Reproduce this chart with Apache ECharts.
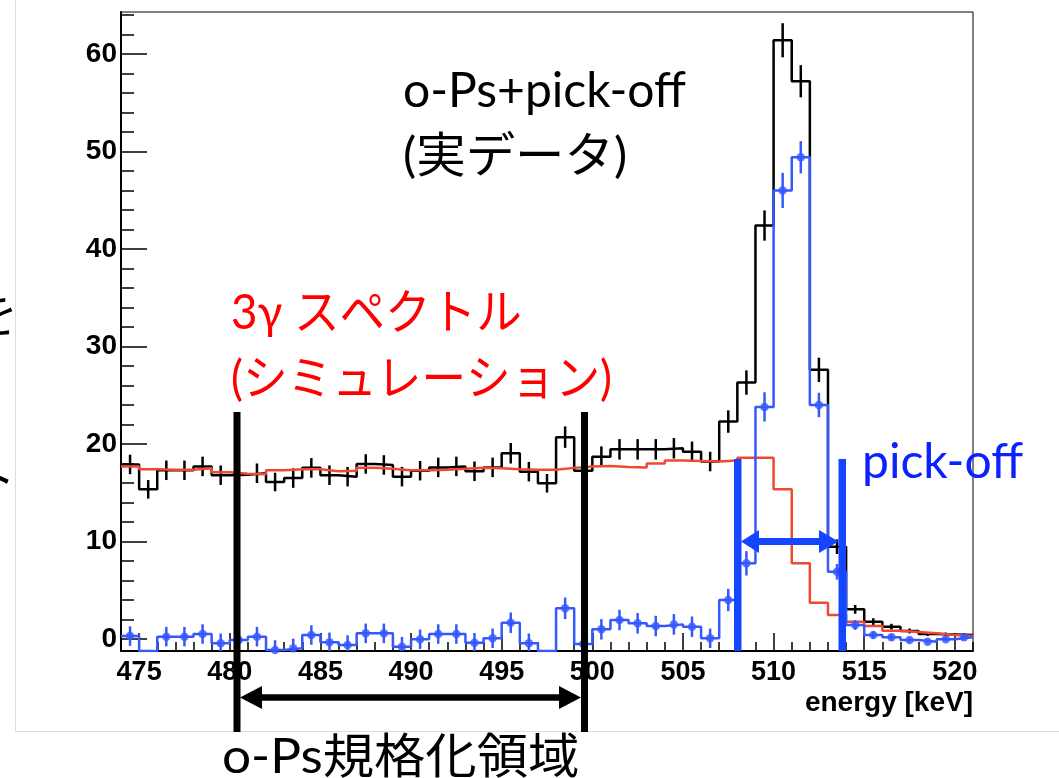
<!DOCTYPE html>
<html><head><meta charset="utf-8">
<script src="https://cdn.jsdelivr.net/npm/echarts@6/dist/echarts.min.js"></script>
<style>html,body{margin:0;padding:0;background:#fff}#c{width:1059px;height:778px}</style>
</head><body><div id="c"></div>
<script>
// ---- data (1 keV bins, lower edges) ----
const binLowEdges = [474,475,476,477,478,479,480,481,482,483,
  484,485,486,487,488,489,490,491,492,493,
  494,495,496,497,498,499,500,501,502,503,
  504,505,506,507,508,509,510,511,512,513,
  514,515,516,517,518,519,520];
const binWidth = 1;
// o-Ps + pick-off (measured data)
const dataCounts = [17.9,15.35,17.3,17.3,17.7,16.8,16.85,17.0,16.1,16.5,
  17.55,16.8,16.65,17.95,17.85,16.65,17.26,17.6,17.7,17.2,
  17.6,19.05,17.16,15.97,20.7,17.26,18.7,19.45,19.45,19.45,
  19.56,19.2,18.2,22.3,26.3,42.4,61.4,57.2,27.6,9.47,
  3.04,1.78,1.26,0.82,0.51,0.47,0.41];
const dataErrors = [1.0,0.95,1.0,1.0,1.0,1.0,1.0,1.0,0.95,1.0,
  1.0,1.0,1.0,1.0,1.0,1.0,1.0,1.0,1.0,1.0,
  1.0,1.05,1.0,0.95,1.1,1.0,1.05,1.05,1.05,1.05,
  1.05,1.05,1.0,1.15,1.25,1.55,1.75,1.65,1.25,0.75,
  0.45,0.35,0.3,0.25,0.2,0.2,0.2];
// pick-off (data minus 3gamma)
const pickoffCounts = [0.3,-2.05,0.24,0.24,0.51,-0.44,-0.1,0.24,-1.13,-0.96,
  0.41,-0.34,-0.62,0.58,0.58,-0.79,-0.03,0.51,0.51,-0.38,
  0.07,1.67,-0.44,-1.38,3.15,-0.51,0.99,1.95,1.61,1.33,
  1.5,1.26,0.07,4.0,7.76,23.8,46.0,49.4,24.0,6.9,
  1.44,0.41,0.17,-0.1,-0.27,-0.03,0.17];
const pickoffErrors = [1.0,1.0,1.0,1.0,1.0,1.0,1.0,1.0,1.0,1.0,
  1.0,1.0,1.0,1.0,1.0,1.0,1.0,1.0,1.0,1.0,
  1.0,1.05,1.0,1.0,1.1,1.0,1.05,1.05,1.05,1.05,
  1.05,1.05,1.0,1.15,1.25,1.5,1.8,1.65,1.25,0.8,
  0.5,0.35,0.3,0.25,0.2,0.2,0.2];
// 3gamma spectrum (simulation)
const sim3gCounts = [17.7,17.4,17.35,17.35,17.5,17.1,16.95,16.9,17.3,17.4,
  17.4,17.2,17.25,17.55,17.45,17.3,17.3,17.35,17.45,17.55,
  17.5,17.4,17.35,17.35,17.55,17.7,17.75,17.65,17.6,18.0,
  18.3,18.25,18.2,18.3,18.6,18.6,15.35,7.76,3.73,2.46,
  1.78,1.33,0.85,0.72,0.58,0.41,0.31];
const xMajorTicks = [475,480,485,490,495,500,505,510,515,520];
const xMinorTicks = [474,475,476,477,478,479,480,481,482,483,484,485,486,487,488,489,490,491,492,493,494,495,496,497,498,499,500,501,502,503,504,505,506,507,508,509,510,511,512,513,514,515,516,517,518,519,520,521];
const yMajorTicks = [0,10,20,30,40,50,60];
const yMinorTicks = [0,2,4,6,8,10,12,14,16,18,20,22,24,26,28,30,32,34,36,38,40,42,44,46,48,50,52,54,56,58,60,62,64];
const X_MIN = 474, X_MAX = 521, Y_MIN = -1.23, Y_MAX = 64.3;

// ---- helpers ----
const clampY = v => Math.max(v, Y_MIN);
function stepPoints(vals){
  const pts = binLowEdges.map((e,i)=>[e, clampY(vals[i])]);
  pts.push([binLowEdges[binLowEdges.length-1]+binWidth, clampY(vals[vals.length-1])]);
  return pts;
}
function errPoints(vals, errs){
  return binLowEdges.map((e,i)=>[e+binWidth/2, vals[i], errs[i]]);
}
function errSeries(vals, errs, color, z){
  return {type:'custom', z:z, clip:true, silent:true,
    data: errPoints(vals, errs),
    renderItem:(params, api)=>{
      const x = api.value(0), v = api.value(1), e = api.value(2);
      if (v <= Y_MIN) return null;
      const p1 = api.coord([x, v-e]), p2 = api.coord([x, v+e]);
      return {type:'line', shape:{x1:p1[0],y1:p1[1],x2:p2[0],y2:p2[1]},
        style:{stroke:color, lineWidth:2.5}};
    }};
}

const BLACK='#000000', BLUE='#3558ff', RED='#ef4a30';
const ANN_BLUE='#1446ff';
const tickFont = {fontFamily:'"Liberation Sans", Arial, sans-serif', fontWeight:'bold', color:'#000'};
const slideFont = 'Lato, "Noto Sans CJK JP", sans-serif';

const chart = echarts.init(document.getElementById('c'), null, {renderer:'canvas'});
const option = {
  backgroundColor:'#ffffff',
  animation:false,
  grid:{left:121, top:12, width:852, height:639, show:true, borderColor:'#000', borderWidth:1, backgroundColor:'transparent'},
  xAxis:[
    {type:'value', min:X_MIN, max:X_MAX, position:'bottom',
     axisLine:{show:true, onZero:false, lineStyle:{color:'#000', width:2}},
     axisTick:{show:true, inside:true, length:18, customValues:xMajorTicks, lineStyle:{color:'#000', width:1.5}},
     axisLabel:Object.assign({customValues:xMajorTicks, margin:8, fontSize:27}, tickFont),
     splitLine:{show:false}},
    {type:'value', min:X_MIN, max:X_MAX, position:'bottom',
     axisLine:{show:false, onZero:false},
     axisTick:{show:true, inside:true, length:9, customValues:xMinorTicks, lineStyle:{color:'#000', width:1.5}},
     axisLabel:{show:false}, splitLine:{show:false}}
  ],
  yAxis:[
    {type:'value', min:Y_MIN, max:Y_MAX, position:'left',
     axisLine:{show:true, onZero:false, lineStyle:{color:'#000', width:2}},
     axisTick:{show:true, inside:true, length:26, customValues:yMajorTicks, lineStyle:{color:'#000', width:1.5}},
     axisLabel:Object.assign({customValues:yMajorTicks, margin:4, fontSize:28}, tickFont),
     splitLine:{show:false}},
    {type:'value', min:Y_MIN, max:Y_MAX, position:'left',
     axisLine:{show:false, onZero:false},
     axisTick:{show:true, inside:true, length:13, customValues:yMinorTicks, lineStyle:{color:'#000', width:1.5}},
     axisLabel:{show:false}, splitLine:{show:false}}
  ],
  series:[
    {type:'line', name:'data', step:'end', symbol:'none', z:2, data:stepPoints(dataCounts),
     lineStyle:{color:BLACK, width:2.5}},
    errSeries(dataCounts, dataErrors, BLACK, 2),
    {type:'line', name:'3gamma', step:'end', symbol:'none', z:3, data:stepPoints(sim3gCounts),
     lineStyle:{color:RED, width:2.5}},
    {type:'line', name:'pickoff', step:'end', symbol:'none', z:4, data:stepPoints(pickoffCounts),
     lineStyle:{color:BLUE, width:2.5}},
    errSeries(pickoffCounts, pickoffErrors, BLUE, 4),
    {type:'scatter', z:5, symbol:'circle', symbolSize:8.5, itemStyle:{color:BLUE}, silent:true,
     data: binLowEdges.map((e,i)=>[e+binWidth/2, pickoffCounts[i]]).filter(p=>p[1] > Y_MIN)}
  ],
  graphic:{elements:[
    // slide frame edges
    {type:'line', z:1, shape:{x1:15.5,y1:0,x2:15.5,y2:731}, style:{stroke:'#dddddd', lineWidth:1}},
    {type:'line', z:1, shape:{x1:15,y1:731.5,x2:1059,y2:731.5}, style:{stroke:'#dddddd', lineWidth:1}},
    // cut-off y label
    {type:'text', z:100, x:-6, y:314, style:{text:'を', font:'48px "Noto Sans CJK JP"', fill:'#000', align:'center', verticalAlign:'middle'}},
    {type:'text', z:100, x:-8, y:478, style:{text:'ト', font:'48px "Noto Sans CJK JP"', fill:'#000', align:'center', verticalAlign:'middle'}},
    // slide texts
    {type:'text', z:100, x:403, y:92, style:{text:'o-Ps+pick-off', font:'48px '+slideFont, fill:'#000', align:'left', verticalAlign:'middle'}},
    {type:'text', z:100, x:403, y:157, scaleX:1.03, style:{text:'(実データ)', font:'48px '+slideFont, fill:'#000', align:'left', verticalAlign:'middle'}},
    {type:'text', z:100, x:231, y:314, scaleX:0.95, style:{text:'3γ スペクトル', font:'48px '+slideFont, fill:'#ff0000', align:'left', verticalAlign:'middle'}},
    {type:'text', z:100, x:231, y:380, scaleX:0.93, style:{text:'(シミュレーション)', font:'48px '+slideFont, fill:'#ff0000', align:'left', verticalAlign:'middle'}},
    {type:'text', z:100, x:862, y:463, style:{text:'pick-off', font:'48px '+slideFont, fill:'#0a22ff', align:'left', verticalAlign:'middle'}},
    {type:'text', z:100, x:222, y:758, scaleX:1.07, style:{text:'o-Ps規格化領域', font:'48px '+slideFont, fill:'#000', align:'left', verticalAlign:'middle'}},
    // axis title
    {type:'text', z:100, x:973, y:703, style:{text:'energy [keV]', font:'bold 28px "Liberation Sans", Arial, sans-serif', fill:'#000', align:'right', verticalAlign:'middle'}},
    // o-Ps normalisation region markers
    {type:'rect', z:100, shape:{x:233.5, y:412, width:7, height:320}, style:{fill:'#000'}},
    {type:'rect', z:100, shape:{x:581, y:412, width:7, height:320}, style:{fill:'#000'}},
    {type:'line', z:100, shape:{x1:255, y1:697.5, x2:566, y2:697.5}, style:{stroke:'#000', lineWidth:6.5}},
    {type:'polygon', z:100, shape:{points:[[240,697.5],[262,686],[262,709]]}, style:{fill:'#000'}},
    {type:'polygon', z:100, shape:{points:[[581,697.5],[559,686],[559,709]]}, style:{fill:'#000'}},
    // pick-off region markers
    {type:'rect', z:100, shape:{x:734, y:459, width:7.5, height:192}, style:{fill:ANN_BLUE}},
    {type:'rect', z:100, shape:{x:838.5, y:459, width:7.5, height:192}, style:{fill:ANN_BLUE}},
    {type:'line', z:100, shape:{x1:752, y1:541.5, x2:826, y2:541.5}, style:{stroke:ANN_BLUE, lineWidth:7}},
    {type:'polygon', z:100, shape:{points:[[741,541.5],[759,530],[759,553]]}, style:{fill:ANN_BLUE}},
    {type:'polygon', z:100, shape:{points:[[838.5,541.5],[819,530],[819,553]]}, style:{fill:ANN_BLUE}}
  ]}
};
chart.setOption(option);
</script>
</body></html>
